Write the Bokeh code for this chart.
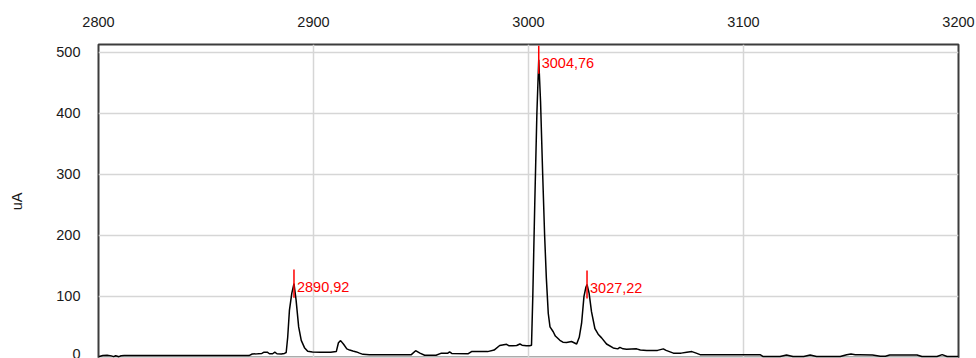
from bokeh.plotting import figure
from bokeh.models import LinearAxis, FixedTicker, Range1d, ColumnDataSource
from bokeh.core.properties import value
from bokeh.embed import file_html
from bokeh.resources import INLINE

# Spectrum trace
wavenumber = [
    2800, 2802, 2804, 2806, 2807, 2808, 2809.5, 2810.5, 2812, 2815,
    2870, 2871.5, 2874, 2876, 2877, 2878.5, 2879.5, 2881, 2882, 2883,
    2885, 2886.5, 2887.3, 2888, 2888.8, 2889.9, 2890.92, 2891.9, 2893.1, 2894.3,
    2895.8, 2897.3, 2899.5, 2903, 2908, 2910.6, 2911.6, 2912.6, 2914, 2915.5,
    2916.8, 2918.3, 2920, 2921.4, 2923, 2926, 2945.5, 2947.5, 2949.5, 2951.7,
    2957, 2959.5, 2962.5, 2963.3, 2964.3, 2972, 2973.5, 2981, 2984, 2986.6,
    2989.8, 2991, 2992.7, 2994.5, 2996, 2997, 2999, 3000.5, 3001.4, 3002.0,
    3002.9, 3003.9, 3004.76, 3005.6, 3006.6, 3007.5, 3008.3, 3009.2, 3010, 3011.5,
    3012.5, 3014.6, 3016, 3017.7, 3020, 3022.4, 3023.6, 3024.7, 3025.8, 3026.7,
    3027.22, 3028.2, 3029.3, 3030.9, 3032.4, 3034, 3036.3, 3039.4, 3041.5, 3042.5,
    3044, 3045.6, 3050.3, 3052, 3055, 3060, 3062.7, 3064, 3067.4, 3071,
    3073.6, 3076, 3078, 3079.8, 3107.7, 3109, 3117, 3120, 3123, 3128,
    3131, 3134, 3145, 3148, 3150, 3152, 3154, 3160, 3163.6, 3166,
    3168, 3180.7, 3183, 3190, 3192.4, 3194.7, 3200,
]
current_ua = [
    1.0, 3.2, 3.5, 2.5, 1.2, 2.8, 1.2, 2.6, 3.0, 3.0,
    3.0, 5.5, 6.0, 6.5, 8.5, 8.5, 6.0, 6.0, 8.5, 6.0,
    5.5, 6.5, 8, 33, 77, 105, 121, 94, 50, 28,
    16, 10, 9, 8.5, 8.5, 9.5, 24, 27.5, 21.5, 14,
    12, 10.5, 9, 7, 5, 4.5, 4.5, 11, 7, 3.5,
    3.5, 7, 7, 9, 6.5, 6, 9.5, 9.5, 12, 19.5,
    21.5, 19, 19, 19.5, 22, 20, 19, 19, 20, 100,
    250, 400, 488, 420, 300, 200, 130, 72, 50, 42,
    35, 28, 25, 24.5, 26, 22, 33, 56, 100, 115,
    119.5, 105, 75, 47, 38, 32, 22, 15.5, 14, 16.5,
    14, 13.5, 14, 12, 11.5, 11.5, 14, 11.5, 7, 7,
    8.5, 9.5, 7, 4.5, 4.5, 1.5, 1.5, 4, 1.5, 1.5,
    4, 1.5, 1.5, 4.5, 5.5, 4.5, 4.5, 4, 2, 2,
    4, 4, 1.5, 1.5, 4.5, 1.5, 1.5,
]

# Annotated peaks
peak_x = [2890.92, 3004.76, 3027.22]
peak_y = [121, 488, 119.5]
peak_labels = ["2890,92", "3004,76", "3027,22"]

x_ticks = [2800, 2900, 3000, 3100, 3200]
y_ticks = [0, 100, 200, 300, 400, 500]

FONT = "Liberation Sans"
MARK_HALF = 23

p = figure(
    width=976, height=358,
    output_backend="svg", toolbar_location=None,
    x_range=Range1d(2800, 3200), y_range=Range1d(-1.8, 513),
    x_axis_location=None, y_axis_location=None,
    min_border_left=98, min_border_right=18,
    min_border_top=44, min_border_bottom=0,
    background_fill_color="white", border_fill_color="white",
    outline_line_color="#3c3c3c", outline_line_width=2,
)

top_axis = LinearAxis(ticker=FixedTicker(ticks=x_ticks))
left_axis = LinearAxis(ticker=FixedTicker(ticks=y_ticks), axis_label="uA")
for ax in (top_axis, left_axis):
    ax.axis_line_color = None
    ax.major_tick_line_color = None
    ax.minor_tick_line_color = None
    ax.major_label_text_font = FONT
    ax.major_label_text_font_size = "14.5px"
    ax.major_label_text_color = "#1a1a1a"
top_axis.major_label_standoff = 12
left_axis.major_label_standoff = 12
left_axis.axis_label_text_font = FONT
left_axis.axis_label_text_font_size = "14.5px"
left_axis.axis_label_text_font_style = "normal"
left_axis.axis_label_text_color = "#1a1a1a"
left_axis.axis_label_standoff = 28
p.add_layout(top_axis, "above")
p.add_layout(left_axis, "left")

p.xgrid.ticker = FixedTicker(ticks=x_ticks)
p.ygrid.ticker = FixedTicker(ticks=y_ticks)
p.xgrid.grid_line_color = "#d6d6d6"
p.ygrid.grid_line_color = "#d6d6d6"
p.xgrid.grid_line_width = 1.5
p.ygrid.grid_line_width = 1.5

p.line(wavenumber, current_ua, line_color="black", line_width=1.5)

src = ColumnDataSource(dict(
    x=peak_x, y=peak_y, label=peak_labels,
    y0=[v - MARK_HALF for v in peak_y], y1=[v + MARK_HALF for v in peak_y],
))
p.segment(x0="x", y0="y0", x1="x", y1="y1", source=src,
          line_color="#ff0000", line_width=1.5)
p.text(x="x", y="y", text="label", source=src,
       text_color="#ff0000", text_font=value(FONT), text_font_size="14.5px",
       text_baseline="middle", text_align="left", x_offset=3, y_offset=3)

open("out.html", "w").write(file_html(p, INLINE))
